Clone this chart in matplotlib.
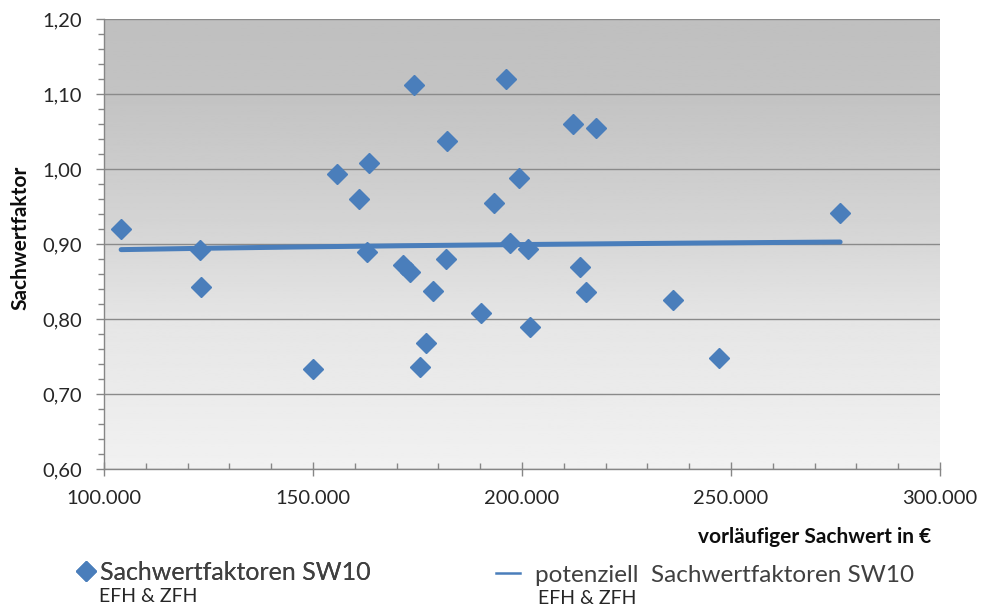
import numpy as np
import matplotlib
matplotlib.use('Agg')
from matplotlib import pyplot as plt
from matplotlib.ticker import FuncFormatter, MultipleLocator
from matplotlib.lines import Line2D

# vorläufiger Sachwert (EUR) und Sachwertfaktor je Objekt
sachwert = [104100, 123000, 123200, 150000, 155700, 161000, 163400, 162900,
            171500, 173200, 174200, 175600, 177000, 178700, 181800, 182100,
            190200, 193300, 196200, 197100, 199300, 201400, 201900, 212200,
            213900, 215300, 217700, 236100, 247100, 276100]
faktor = [0.920, 0.892, 0.843, 0.733, 0.993, 0.960, 1.008, 0.889,
          0.872, 0.863, 1.112, 0.736, 0.768, 0.837, 0.880, 1.037,
          0.808, 0.955, 1.120, 0.901, 0.988, 0.893, 0.789, 1.060,
          0.869, 0.836, 1.055, 0.825, 0.748, 0.941]

serie_name = 'Sachwertfaktoren SW10'
trend_name = 'potenziell  Sachwertfaktoren SW10'
sub_name = 'EFH & ZFH'

blue = '#4a7ebb'
axis_gray = '#868686'
font = ['Lato', 'DejaVu Sans']

plt.rcParams['font.family'] = font

fig = plt.figure(figsize=(9.83, 6.09), dpi=100)
ax = fig.add_axes([104/983, 1-469/609, 836/983, 450/609])

# grauer Verlauf als Hintergrund der Zeichenfläche
pos = np.linspace(0, 1, 256)
shade = np.interp(pos, [0, 0.33, 0.5, 0.67, 0.83, 1.0],
                  [0.945, 0.90, 0.845, 0.80, 0.765, 0.75])
ax.imshow(shade[:, None], extent=[0, 1, 0, 1], transform=ax.transAxes,
          origin='lower', aspect='auto', cmap='gray', vmin=0, vmax=1, zorder=0)

x = np.array(sachwert, dtype=float)
y = np.array(faktor)

# Potenz-Trendlinie y = a * x^b
b, lna = np.polyfit(np.log(x), np.log(y), 1)
xt = np.linspace(x.min(), x.max(), 200)
yt = np.exp(lna) * xt ** b

ax.plot(xt, yt, color=blue, lw=3.6, solid_capstyle='round', zorder=3)
ax.plot(x, y, 'D', color=blue, ms=10, mec=blue, zorder=4)

ax.set_xlim(100000, 300000)
ax.set_ylim(0.60, 1.20)
ax.xaxis.set_major_locator(MultipleLocator(50000))
ax.xaxis.set_minor_locator(MultipleLocator(10000))
ax.yaxis.set_major_locator(MultipleLocator(0.10))
ax.yaxis.set_minor_locator(MultipleLocator(0.02))
ax.xaxis.set_major_formatter(FuncFormatter(lambda v, p: f'{v:,.0f}'.replace(',', '.')))
ax.yaxis.set_major_formatter(FuncFormatter(lambda v, p: f'{v:.2f}'.replace('.', ',')))

ax.grid(axis='y', which='major', color='#8a8a8a', lw=1.0, zorder=1)
ax.set_axisbelow(True)
for s in ['top', 'right']:
    ax.spines[s].set_visible(False)
for s in ['left', 'bottom']:
    ax.spines[s].set_color(axis_gray)
    ax.spines[s].set_linewidth(1.0)

ax.tick_params(axis='y', which='major', direction='out', length=6, width=1,
               color=axis_gray, labelsize=14.5, labelcolor='#262626', pad=10)
ax.tick_params(axis='y', which='minor', direction='out', length=4.5, width=1,
               color=axis_gray)
ax.tick_params(axis='x', which='major', direction='inout', length=10, width=1,
               color=axis_gray, labelsize=14.5, labelcolor='#262626', pad=10)
ax.tick_params(axis='x', which='minor', direction='in', length=4.5, width=1,
               color=axis_gray)

fig.text(20/983, 1-238/609, 'Sachwertfaktor', rotation=90, ha='center',
         va='center', fontsize=15, fontweight='bold', color='#0d0d0d')
fig.text(931/983, 1-537/609, 'vorläufiger Sachwert in €', ha='right',
         va='center', fontsize=15, fontweight='bold', color='#0d0d0d')

# Legende unter dem Diagramm
leg1 = fig.legend([Line2D([], [], marker='D', ls='', color=blue, ms=10)],
                  [serie_name], loc='center left',
                  bbox_to_anchor=(53/983, 1-572/609), frameon=False,
                  fontsize=18, handlelength=0.8, handletextpad=0.18,
                  labelcolor='#404040')
fig.add_artist(leg1)
leg2 = fig.legend([Line2D([], [], color=blue, lw=1.8)],
                  [trend_name], loc='center left',
                  bbox_to_anchor=(474/983, 1-575/609), frameon=False,
                  fontsize=17.5, handlelength=1.0, handletextpad=0.6,
                  labelcolor='#404040')
fig.text(99/983, 1-596/609, sub_name, ha='left', va='center', fontsize=14,
         color='#262626')
fig.text(538/983, 1-599/609, sub_name, ha='left', va='center', fontsize=14,
         color='#262626')

fig.savefig('out.png', dpi=100)
